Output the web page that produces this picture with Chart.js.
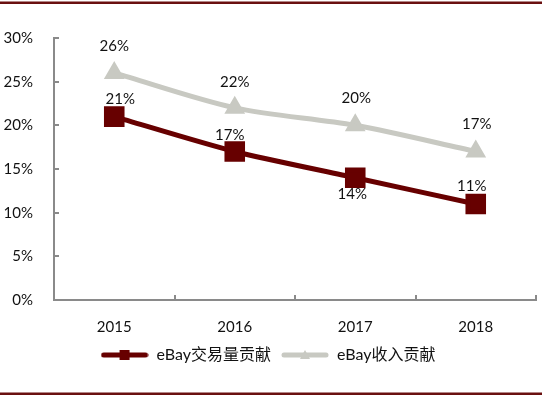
<!DOCTYPE html>
<html lang="zh">
<head>
  <meta charset="UTF-8">
  <title>eBay贡献</title>
  <style>
    body { margin: 0; background: #fff; }
    .wrap { position: relative; width: 542px; height: 397px; }
  </style>
</head>
<body>
  <div class="wrap"><canvas id="chart" width="542" height="397"></canvas></div>

  <script src="https://cdn.jsdelivr.net/npm/chart.js"></script>
  <script>
    // chart data
    const years = ['2015', '2016', '2017', '2018'];
    const gmvShare = [21, 17, 14, 11];      // eBay交易量贡献
    const revenueShare = [26, 22, 20, 17];  // eBay收入贡献
    const yTicks = [0, 5, 10, 15, 20, 25, 30];

    const RED = '#670000';
    const GRAY = '#c8c9c2';
    const AXIS = '#8a8a8a';

    // little legend swatches: a line with the marker in the middle
    function swatch(color, marker) {
      const c = document.createElement('canvas');
      c.width = 48; c.height = 12;
      const g = c.getContext('2d');
      g.strokeStyle = color; g.lineWidth = 5; g.lineCap = 'round';
      g.beginPath(); g.moveTo(3, 6); g.lineTo(45, 6); g.stroke();
      g.fillStyle = color;
      if (marker === 'square') {
        g.fillRect(19, 1, 10, 10);
      } else {
        g.beginPath(); g.moveTo(24, 1); g.lineTo(29, 10); g.lineTo(19, 10); g.closePath(); g.fill();
      }
      return c;
    }

    // frame lines, inner axis ticks and value labels
    const decor = {
      id: 'decor',
      beforeDraw(chart) {
        const ctx = chart.ctx;
        ctx.save();
        ctx.fillStyle = '#fff';
        ctx.fillRect(0, 0, chart.width, chart.height);
        ctx.fillStyle = '#6a1010';
        ctx.fillRect(0, 1.5, chart.width, 2.5);
        ctx.fillRect(0, 392.5, chart.width, 2.5);
        ctx.restore();
      },
      afterDatasetsDraw(chart) {
        const ctx = chart.ctx;
        const area = chart.chartArea;
        const yScale = chart.scales.y;
        ctx.save();
        ctx.strokeStyle = AXIS;
        ctx.lineWidth = 2;
        // y ticks pointing inward
        yTicks.forEach(v => {
          const y = Math.round(yScale.getPixelForValue(v));
          ctx.beginPath(); ctx.moveTo(area.left, y); ctx.lineTo(area.left + 5, y); ctx.stroke();
        });
        // x ticks between categories, pointing up
        const n = years.length;
        for (let i = 1; i <= n; i++) {
          const x = Math.round(area.left + i * (area.right - area.left) / n);
          ctx.beginPath(); ctx.moveTo(x, area.bottom); ctx.lineTo(x, area.bottom - 5); ctx.stroke();
        }
        // value labels
        ctx.font = '15px Lato, "Noto Sans", sans-serif';
        ctx.fillStyle = '#111';
        ctx.textAlign = 'center';
        ctx.textBaseline = 'middle';
        chart.data.datasets.forEach((ds, di) => {
          const meta = chart.getDatasetMeta(di);
          meta.data.forEach((pt, i) => {
            const off = ds.labelOffsets[i];
            ctx.fillText(ds.data[i] + '%', pt.x + off[0], pt.y + off[1]);
          });
        });
        ctx.restore();
      }
    };

    new Chart(document.getElementById('chart'), {
      type: 'line',
      data: {
        labels: years,
        datasets: [
          {
            label: 'eBay交易量贡献',
            data: gmvShare,
            borderColor: RED,
            backgroundColor: RED,
            borderWidth: 5,
            tension: 0.25,
            pointStyle: 'rect',
            pointRadius: 11,
            pointHoverRadius: 11,
            legendSwatch: swatch(RED, 'square'),
            labelOffsets: [[6, -17], [-5, -16], [-3, 16], [-4, -18]],
            order: 1
          },
          {
            label: 'eBay收入贡献',
            data: revenueShare,
            borderColor: GRAY,
            backgroundColor: GRAY,
            borderWidth: 5,
            tension: 0.3,
            pointStyle: 'triangle',
            pointRadius: 7,
            pointHoverRadius: 7,
            legendSwatch: swatch(GRAY, 'triangle'),
            labelOffsets: [[0, -27], [0, -26], [1, -27], [1, -27]],
            order: 2
          }
        ]
      },
      options: {
        responsive: false,
        animation: false,
        layout: { autoPadding: false, padding: { top: 38, right: 6, left: 0, bottom: 24 } },
        plugins: {
          tooltip: { enabled: false },
          legend: {
            position: 'bottom',
            labels: {
              usePointStyle: true,
              pointStyleWidth: 48,
              padding: 10,
              color: '#111',
              font: { size: 16, family: 'Lato, "Noto Sans CJK SC", sans-serif' },
              generateLabels(chart) {
                return chart.data.datasets.map((ds, i) => ({
                  text: ds.label,
                  pointStyle: ds.legendSwatch,
                  fillStyle: ds.borderColor,
                  strokeStyle: ds.borderColor,
                  lineWidth: 0,
                  fontColor: '#111',
                  datasetIndex: i
                }));
              }
            }
          }
        },
        scales: {
          x: {
            offset: true,
            grid: { display: false, offset: true },
            border: { display: true, color: AXIS, width: 2 },
            ticks: { color: '#111', padding: 10, font: { size: 15, family: 'Lato, sans-serif' } },
            afterFit(s) { s.height = 37; s.paddingLeft = 0; s.paddingRight = 0; }
          },
          y: {
            min: 0,
            max: 30,
            afterBuildTicks(s) { s.ticks = yTicks.map(v => ({ value: v })); },
            grid: { display: false },
            border: { display: true, color: AXIS, width: 2 },
            ticks: {
              color: '#111',
              padding: 13,
              font: { size: 15, family: 'Lato, sans-serif' },
              callback: v => v + '%'
            },
            afterFit(s) { s.width = 54; s.paddingTop = 0; s.paddingBottom = 0; }
          }
        }
      },
      plugins: [decor]
    });
  </script>
</body>
</html>
